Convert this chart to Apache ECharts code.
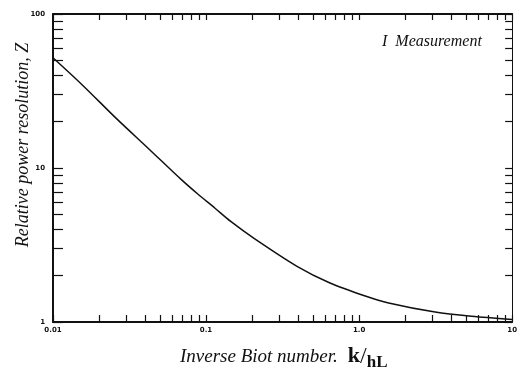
<!DOCTYPE html>
<html>
<head>
<meta charset="utf-8">
<script src="https://cdn.jsdelivr.net/npm/echarts@6/dist/echarts.min.js"></script>
<style>
  html, body { margin: 0; padding: 0; background: #fff; }
  #chart { width: 520px; height: 385px; }
</style>
</head>
<body>
<div id="chart"></div>
<script>
// inverse Biot number k/hL and relative power resolution Z
const biot = [0.01, 0.0156, 0.0259, 0.0423, 0.069, 0.0887, 0.114, 0.145, 0.207, 0.393, 0.64, 1.11, 1.56, 3.14, 5.43, 10];
const zValues = [52, 34.5, 21, 13.3, 8.4, 6.75, 5.5, 4.5, 3.48, 2.3, 1.8, 1.47, 1.33, 1.16, 1.09, 1.04];

// tick labels
const xLabelValues = [0.01, 0.1, 1, 10];
const xLabelText = ['0.01', '0.1', '1.0', '10'];
const yLabelValues = [1, 10, 100];
const yLabelText = ['1', '10', '100'];

// tick positions (decades and their 2..9 subdivisions)
const xTickValues = [
  0.01, 0.02, 0.03, 0.04, 0.05, 0.06, 0.07, 0.08, 0.09,
  0.1, 0.2, 0.3, 0.4, 0.5, 0.6, 0.7, 0.8, 0.9,
  1, 2, 3, 4, 5, 6, 7, 8, 9, 10
];
const yTickValues = [
  1, 2, 3, 4, 5, 6, 7, 8, 9,
  10, 20, 30, 40, 50, 60, 70, 80, 90, 100
];

const serif = '"Liberation Serif", "DejaVu Serif", serif';
const labelFont = { fontSize: 7, fontWeight: 'bold', color: '#111', fontFamily: '"DejaVu Sans", sans-serif' };

const chart = echarts.init(document.getElementById('chart'));

const option = {
  animation: false,
  backgroundColor: '#fff',
  grid: { left: 53, right: 2, top: 14, bottom: 63 },
  graphic: [
    {
      type: 'text',
      left: 382,
      top: 34,
      style: { text: 'I  Measurement', font: 'italic 16px ' + serif, fill: '#111' }
    },
    {
      // y axis title
      type: 'text',
      x: 23,
      y: 145,
      rotation: Math.PI / 2,
      style: {
        text: 'Relative power resolution, Z',
        font: 'italic 18px ' + serif,
        fill: '#111',
        align: 'center',
        verticalAlign: 'middle'
      }
    },
    {
      // x axis title
      type: 'text',
      x: 180,
      y: 342,
      style: {
        text: '{it|Inverse Biot number.}   {k|k}{sl|/}{hl|hL}',
        fill: '#111',
        rich: {
          it: { font: 'italic 19px ' + serif, fill: '#111' },
          k: { font: 'bold 22px ' + serif, fill: '#111' },
          sl: { font: '24px ' + serif, fill: '#111' },
          hl: { font: 'bold 17px ' + serif, fill: '#111', padding: [12, 0, 0, 0] }
        }
      }
    }
  ],
  xAxis: [
    {
      type: 'log',
      position: 'bottom',
      min: 0.01,
      max: 10,
      axisLine: { show: true, lineStyle: { color: '#111', width: 2 } },
      axisTick: { show: true, inside: true, length: 7, customValues: xTickValues, lineStyle: { color: '#111', width: 1.2 } },
      axisLabel: {
        ...labelFont,
        margin: 5,
        customValues: xLabelValues,
        formatter: v => xLabelText[xLabelValues.findIndex(x => Math.abs(x - v) / x < 1e-6)] || ''
      },
      splitLine: { show: false }
    },
    {
      type: 'log',
      position: 'top',
      min: 0.01,
      max: 10,
      axisLine: { show: true, lineStyle: { color: '#111', width: 2 } },
      axisTick: { show: true, inside: true, length: 6, customValues: xTickValues, lineStyle: { color: '#111', width: 1.2 } },
      axisLabel: { show: false },
      splitLine: { show: false }
    }
  ],
  yAxis: [
    {
      type: 'log',
      position: 'left',
      min: 1,
      max: 100,
      axisLine: { show: true, lineStyle: { color: '#111', width: 2 } },
      axisTick: { show: true, inside: true, length: 10, customValues: yTickValues, lineStyle: { color: '#111', width: 1.2 } },
      axisLabel: {
        ...labelFont,
        margin: 8,
        customValues: yLabelValues,
        formatter: v => yLabelText[yLabelValues.findIndex(y => Math.abs(y - v) / y < 1e-6)] || ''
      },
      splitLine: { show: false }
    },
    {
      type: 'log',
      position: 'right',
      min: 1,
      max: 100,
      axisLine: { show: true, lineStyle: { color: '#111', width: 1 } },
      axisTick: { show: true, inside: true, length: 7, customValues: yTickValues, lineStyle: { color: '#111', width: 1.2 } },
      axisLabel: { show: false },
      splitLine: { show: false }
    }
  ],
  series: [
    {
      type: 'line',
      xAxisIndex: 0,
      yAxisIndex: 0,
      data: biot.map((b, i) => [b, zValues[i]]),
      showSymbol: false,
      smooth: 0.3,
      lineStyle: { color: '#111', width: 1.5 }
    }
  ]
};

chart.setOption(option);
</script>
</body>
</html>
